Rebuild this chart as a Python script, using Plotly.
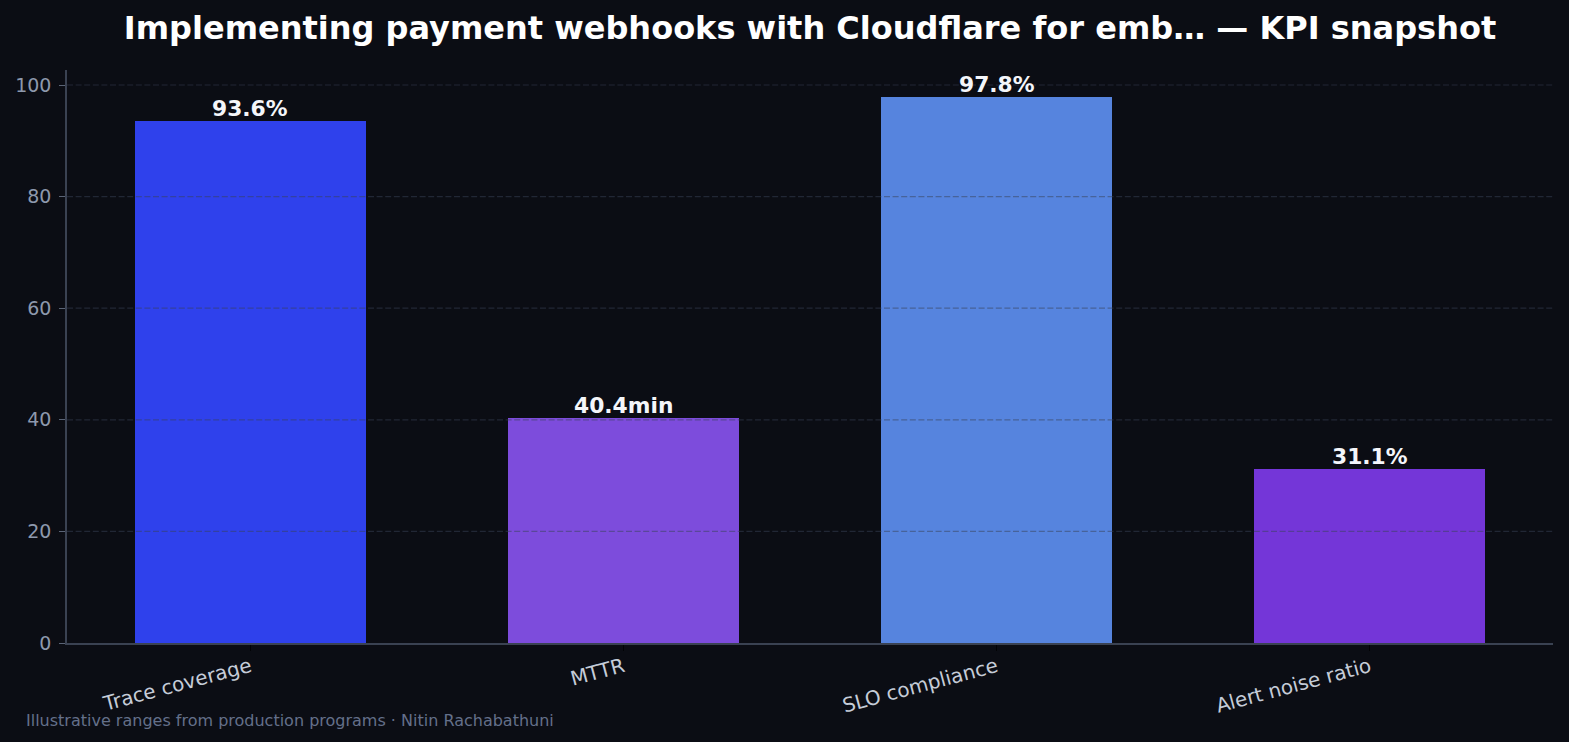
import plotly.graph_objects as go

categories = ["Trace coverage", "MTTR", "SLO compliance", "Alert noise ratio"]
values = [93.6, 40.4, 97.8, 31.1]
units = ["%", "min", "%", "%"]
bar_colors = ["#2f41ec", "#7d4cdc", "#5684de", "#7436d8"]
y_ticks = [0, 20, 40, 60, 80, 100]

labels = [f"{v:.1f}{u}" for v, u in zip(values, units)]

W, H = 1569, 742
ml, mr, mt, mb = 67, 16, 70, 99

fig = go.Figure()
fig.add_trace(go.Bar(
    x=list(range(len(categories))),
    y=values,
    width=0.62,
    marker=dict(color=bar_colors, line=dict(width=0)),
    hoverinfo="skip",
))

for i, (v, lab) in enumerate(zip(values, labels)):
    fig.add_annotation(
        x=i, y=v, xref="x", yref="y",
        text=lab, showarrow=False,
        xanchor="center", yanchor="bottom", yshift=-2,
        font=dict(family="DejaVu Sans", size=21.8, color="#f4f6fa", weight=700),
    )

# dashed grid drawn above the bars (as in the reference)
for t in y_ticks[1:]:
    fig.add_shape(
        type="line", xref="paper", yref="y",
        x0=0, x1=1, y0=t, y1=t,
        line=dict(color="rgba(55,65,85,0.5)", width=1.2, dash="6px,2.6px"),
        layer="above",
    )

fig.update_layout(
    width=W, height=H,
    margin=dict(l=ml, r=mr, t=mt, b=mb, pad=0),
    paper_bgcolor="#0b0d14",
    plot_bgcolor="#0b0d14",
    showlegend=False,
    font=dict(family="DejaVu Sans"),
    title=dict(
        text="Implementing payment webhooks with Cloudflare for emb… — KPI snapshot",
        font=dict(family="DejaVu Sans", size=32, color="#ffffff", weight=700),
        x=0.5, xref="paper", xanchor="center",
        y=1 - 28 / H, yref="container", yanchor="middle",
    ),
    bargap=0,
)

fig.update_xaxes(
    range=[-0.491, 3.491],
    tickmode="array",
    tickvals=list(range(len(categories))),
    ticktext=categories,
    tickangle=-15,
    tickfont=dict(family="DejaVu Sans", size=20, color="#c5ccd8"),
    ticks="outside", ticklen=6, tickwidth=1.2, tickcolor="#020305",
    ticklabelstandoff=-3,
    showline=True, linecolor="#3a4252", linewidth=1.5,
    showgrid=False, zeroline=False,
)

fig.update_yaxes(
    range=[0, 102.69],
    tickmode="array",
    tickvals=y_ticks,
    ticktext=[str(t) for t in y_ticks],
    tickfont=dict(family="DejaVu Sans", size=19, color="#8e99ad"),
    ticks="outside", ticklen=6, tickwidth=1.2, tickcolor="#5a6476",
    ticklabelstandoff=4,
    showline=True, linecolor="#3a4252", linewidth=1.5,
    showgrid=False,
    zeroline=False,
    layer="above traces",
)

fig.add_annotation(
    text="Illustrative ranges from production programs · Nitin Rachabathuni",
    xref="paper", yref="paper",
    x=(24 - ml) / (W - ml - mr), y=(H - mb - 720) / (H - mt - mb),
    xanchor="left", yanchor="middle",
    showarrow=False,
    font=dict(family="DejaVu Sans", size=16, color="#64708a"),
)

fig.write_html("out.html")
